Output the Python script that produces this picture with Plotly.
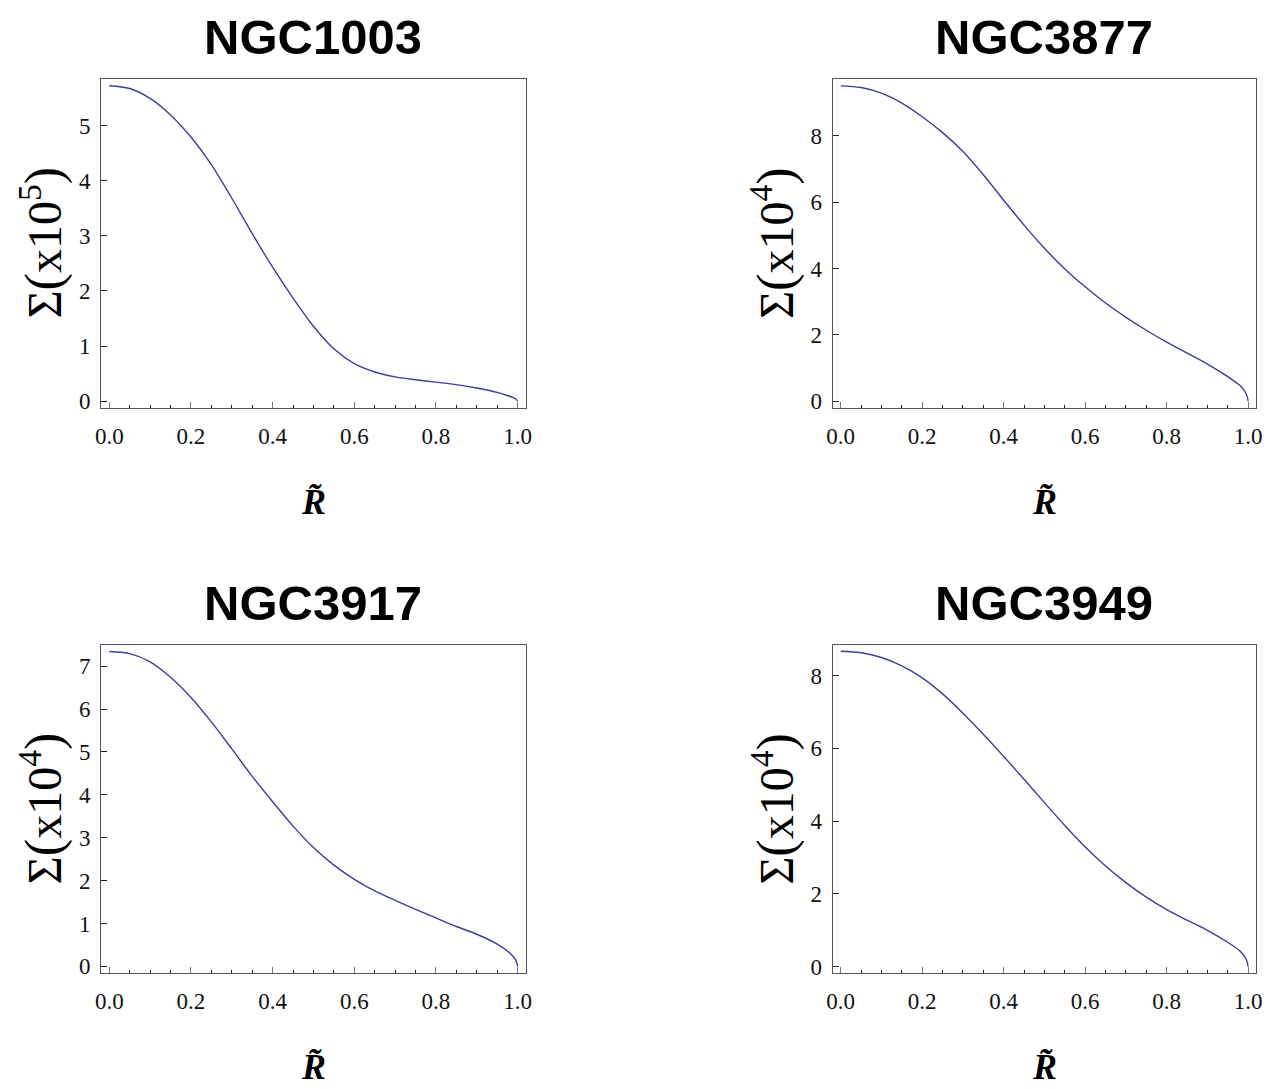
import plotly.graph_objects as go

# The page body has an 8px default margin.
OFF = 8
W, H = 1277, 1089
# small empirical correction between page pixels and the photographed picture
SX, AX = 0.9913, 4.9
SY, AY = 0.9944, -0.6

# ---- data ----
R = [0.0, 0.05, 0.10, 0.15, 0.20, 0.25, 0.30, 0.35, 0.40, 0.45, 0.50,
     0.55, 0.60, 0.65, 0.70, 0.75, 0.80, 0.85, 0.90, 0.95, 0.98, 0.995, 1.0]

ngc1003 = [5.72, 5.67, 5.49, 5.19, 4.79, 4.29, 3.68, 3.04, 2.43, 1.87, 1.36,
           0.95, 0.68, 0.53, 0.44, 0.39, 0.345, 0.30, 0.24, 0.16, 0.09, 0.045, 0.0]
ngc3877 = [9.51, 9.46, 9.29, 8.99, 8.58, 8.10, 7.53, 6.83, 6.06, 5.31, 4.61,
           3.99, 3.45, 2.96, 2.53, 2.14, 1.78, 1.45, 1.12, 0.74, 0.47, 0.23, 0.0]
ngc3917 = [7.34, 7.29, 7.10, 6.74, 6.27, 5.70, 5.07, 4.43, 3.84, 3.27, 2.77,
           2.36, 2.03, 1.76, 1.54, 1.33, 1.13, 0.93, 0.75, 0.52, 0.32, 0.16, 0.0]
ngc3949 = [8.67, 8.63, 8.50, 8.27, 7.94, 7.50, 6.97, 6.39, 5.78, 5.15, 4.51,
           3.88, 3.29, 2.77, 2.31, 1.91, 1.57, 1.28, 1.00, 0.67, 0.43, 0.21, 0.0]

titles = ["NGC1003", "NGC3877", "NGC3917", "NGC3949"]
exponents = [5, 4, 4, 4]
series = [ngc1003, ngc3877, ngc3917, ngc3949]
y_dticks = [1, 2, 1, 2]
y_ranges = [[-0.12, 5.85], [-0.20, 9.73], [-0.15, 7.49], [-0.17, 8.84]]
x_range = [-0.02, 1.02]

# panel boxes in picture pixels (left, right, top, bottom)
boxes = [(100, 525, 78, 407.5), (832, 1256, 78, 407.5),
         (100, 525, 645, 973), (832, 1256, 645, 973)]

LINE_COLOR = "#3d3d9e"
FRAME_COLOR = "#555555"
SERIF = "Liberation Serif, Times New Roman, serif"
TICK_FONT = dict(family=SERIF, size=23, color="#111111")


def px(x):
    page = (x - AX) / SX
    return (page - OFF) / W


def py(y):
    page = (y - AY) / SY
    return 1 - (page - OFF) / H


fig = go.Figure()
layout = dict(
    width=W, height=H,
    margin=dict(l=0, r=0, t=0, b=0, pad=0),
    paper_bgcolor="white", plot_bgcolor="white",
    showlegend=False,
    annotations=[],
)

for i, (name, exp, ys, dt, yr, box) in enumerate(
        zip(titles, exponents, series, y_dticks, y_ranges, boxes)):
    n = "" if i == 0 else str(i + 1)
    l, r, t, b = box
    fig.add_trace(go.Scatter(
        x=R, y=ys, mode="lines",
        line=dict(color=LINE_COLOR, width=1.4, shape="spline", smoothing=0.9),
        xaxis="x" + n, yaxis="y" + n, hoverinfo="skip"))
    layout["xaxis" + n] = dict(
        domain=[px(l), px(r)], range=x_range, anchor="y" + n,
        showgrid=False, zeroline=False,
        showline=True, linecolor=FRAME_COLOR, linewidth=1.2, mirror=True,
        tickmode="linear", tick0=0, dtick=0.2, tickformat=".1f",
        ticks="inside", ticklen=6, tickwidth=1, tickcolor="#777777",
        minor=dict(dtick=0.05, tick0=0, ticks="inside", ticklen=3,
                   tickwidth=1, tickcolor="#222222", showgrid=False),
        tickfont=TICK_FONT, ticklabelstandoff=7,
    )
    layout["yaxis" + n] = dict(
        domain=[py(b), py(t)], range=yr, anchor="x" + n,
        showgrid=False, zeroline=False,
        showline=True, linecolor=FRAME_COLOR, linewidth=1.2, mirror=True,
        tickmode="linear", tick0=0, dtick=dt,
        ticks="inside", ticklen=6, tickwidth=1, tickcolor="#222222",
        tickfont=TICK_FONT, ticklabelstandoff=5,
    )
    cx = px((l + r) / 2)
    cy = py((t + b) / 2)
    # title
    layout["annotations"].append(dict(
        text="<b>%s</b>" % name, xref="paper", yref="paper",
        x=cx, y=py(t - 42), xanchor="center", yanchor="middle",
        showarrow=False,
        font=dict(family="Liberation Sans, Arial, sans-serif",
                  size=49, color="black")))
    # y label (with taller parentheses as in the reference)
    ylab = ("Σ<span style='font-size:52px'>(</span>x10<sup>%d</sup>"
            "<span style='font-size:52px'>)</span>") % exp
    layout["annotations"].append(dict(
        text=ylab, xref="paper", yref="paper",
        x=px(l - 59), y=cy, xanchor="center", yanchor="middle",
        textangle=-90, showarrow=False, borderpad=0,
        font=dict(family=SERIF, size=48, color="black")))
    # x label
    layout["annotations"].append(dict(
        text="<b><i>R\u0303</i></b>", xref="paper", yref="paper",
        x=cx, y=py(b + 94), xanchor="center", yanchor="middle",
        showarrow=False,
        font=dict(family=SERIF, size=36, color="black")))

fig.update_layout(**layout)
fig.write_html("out.html")
